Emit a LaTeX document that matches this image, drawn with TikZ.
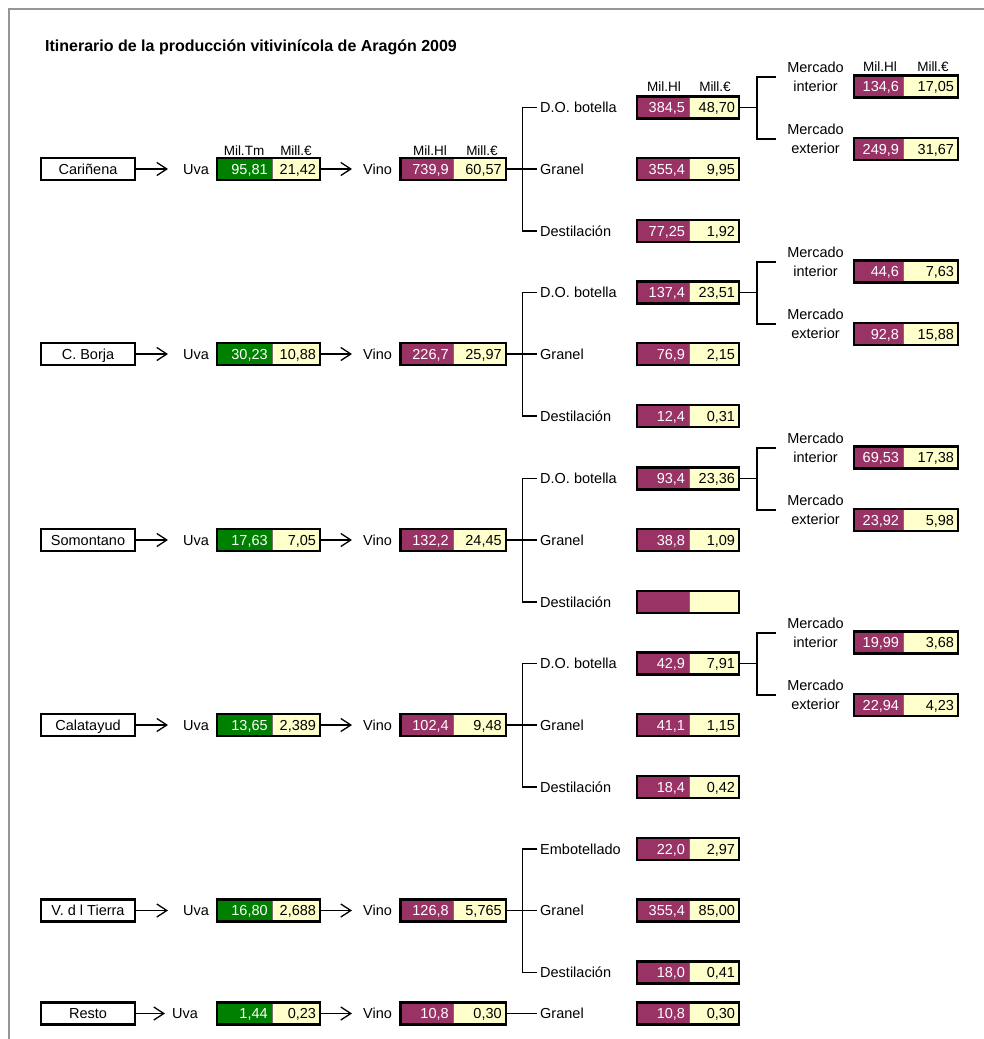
\documentclass[tikz,border=0pt]{standalone}
\usepackage{fontspec}
\setmainfont{Liberation Sans}
\usetikzlibrary{arrows.meta}
\definecolor{vinp}{HTML}{993366}
\definecolor{uvag}{HTML}{008000}
\definecolor{cremy}{HTML}{FFFFCC}
\definecolor{framegray}{HTML}{969696}
\tikzset{
  cell/.style={rectangle, inner xsep=4pt, inner ysep=0pt, minimum height=21.5pt,
    text height=10.5pt, text depth=0pt, align=right},
  sepline/.style={line width=0.6pt, black!55},
  boxline/.style={line width=2.2pt, black},
  regbox/.style={draw, line width=2.2pt, minimum width=94pt, minimum height=22pt,
    inner sep=0pt, text height=10.5pt, text depth=0pt},
  lbl/.style={inner sep=0pt, text height=10.5pt, text depth=0pt, anchor=west},
  mlbl/.style={inner sep=0pt, text height=10.5pt, text depth=0pt, anchor=center},
  hdr/.style={inner sep=0pt, text height=10pt, text depth=0pt, anchor=center,
    font=\fontsize{13.5}{16}\selectfont},
  arr/.style={line width=1.3pt, -{Straight Barb[length=10pt,width=13pt]}},
  conn/.style={line width=1.3pt},
  brk/.style={line width=2pt},
}
\newcommand\cpair[8]{%
  \pgfmathsetmacro\cpXa{#2+#4/2}%
  \pgfmathsetmacro\cpXb{#2+#4+#5/2}%
  \pgfmathsetmacro\cpTa{#4-8}%
  \pgfmathsetmacro\cpTb{#5-8}%
  \node[cell, fill=#6, text=white, text width=\cpTa pt] (#1a) at (\cpXa,#3) {#7};
  \node[cell, fill=cremy, text=black, text width=\cpTb pt] (#1b) at (\cpXb,#3) {#8};
  \draw[sepline] (#1a.north east) -- (#1a.south east);
  \draw[boxline] (#1a.north west) rectangle (#1b.south east);
}
\begin{document}
\begin{tikzpicture}[x=1pt, y=-1pt, font=\fontsize{14.5}{17}\selectfont]
\useasboundingbox (0,0) rectangle (984,1039);
\fill[white] (0,0) rectangle (984,1039);
\draw[framegray, line width=2pt] (8.5,1039) -- (8.5,8.5) -- (984,8.5);

\node[lbl, font=\fontsize{16}{19}\selectfont\bfseries, text height=11.5pt] (title) at (45,45.3)
  {Itinerario de la producción vitivinícola de Aragón 2009};

% headers
\node[hdr] (h1) at (244,150) {Mil.Tm};
\node[hdr] (h2) at (296,150) {Mill.€};
\node[hdr] (h3) at (430,150) {Mil.Hl};
\node[hdr] (h4) at (482,150) {Mill.€};
\node[hdr] (h5) at (664,86.7) {Mil.Hl};
\node[hdr] (h6) at (715,86.7) {Mill.€};
\node[hdr] (h7) at (880,66.7) {Mil.Hl};
\node[hdr] (h8) at (933,66.7) {Mill.€};

% ---------- Group 1: Cariñena ----------
\node[regbox] (r1) at (88,169) {Cariñena};
\node[lbl] (u1) at (183,169) {Uva};
\cpair{U1}{217}{169}{54.7}{48.3}{uvag}{95,81}{21,42}
\node[lbl] (v1) at (363,169) {Vino};
\cpair{V1}{400.7}{169}{52}{53}{vinp}{739,9}{60,57}
\draw[arr, shorten >=15pt] (r1.east) -- (u1.west);
\draw[arr, shorten >=11pt] (U1b.east) -- (v1.west);
\node[lbl] (b1do) at (540,107.5) {D.O. botella};
\node[lbl] (b1gr) at (540,169) {Granel};
\node[lbl] (b1ds) at (540,231) {Destilación};
\cpair{D1}{637}{107.5}{52}{50}{vinp}{384,5}{48,70}
\cpair{G1}{637}{169}{52}{50}{vinp}{355,4}{9,95}
\cpair{S1}{637}{231}{52}{50}{vinp}{77,25}{1,92}
\draw[conn] (V1b.east) -- ([xshift=-3.3pt]b1gr.west);
\draw[conn] ([xshift=-3.3pt]b1do.west) -- ++(-14,0) |- ([xshift=-3.3pt]b1ds.west);
\node[mlbl] (m1a) at (815.5,67) {Mercado};
\node[mlbl] (m1b) at (815.5,86) {interior};
\node[mlbl] (m1c) at (815.5,129) {Mercado};
\node[mlbl] (m1d) at (815.5,148) {exterior};
\cpair{I1}{854}{86.5}{49}{55}{vinp}{134,6}{17,05}
\cpair{E1}{854}{149}{49}{55}{vinp}{249,9}{31,67}
\coordinate (k1t) at (775.5,76.5);
\coordinate (k1b) at (775.5,138.5);
\draw[conn] (D1b.east) -- ++(17.7,0);
\draw[brk] (k1t) -- ++(-19,0) |- (k1b);

% ---------- Group 2: C. Borja ----------
\node[regbox] (r2) at (88,354) {C. Borja};
\node[lbl] (u2) at (183,354) {Uva};
\cpair{U2}{217}{354}{54.7}{48.3}{uvag}{30,23}{10,88}
\node[lbl] (v2) at (363,354) {Vino};
\cpair{V2}{400.7}{354}{52}{53}{vinp}{226,7}{25,97}
\draw[arr, shorten >=15pt] (r2.east) -- (u2.west);
\draw[arr, shorten >=11pt] (U2b.east) -- (v2.west);
\node[lbl] (b2do) at (540,292.5) {D.O. botella};
\node[lbl] (b2gr) at (540,354) {Granel};
\node[lbl] (b2ds) at (540,416) {Destilación};
\cpair{D2}{637}{292.5}{52}{50}{vinp}{137,4}{23,51}
\cpair{G2}{637}{354}{52}{50}{vinp}{76,9}{2,15}
\cpair{S2}{637}{416}{52}{50}{vinp}{12,4}{0,31}
\draw[conn] (V2b.east) -- ([xshift=-3.3pt]b2gr.west);
\draw[conn] ([xshift=-3.3pt]b2do.west) -- ++(-14,0) |- ([xshift=-3.3pt]b2ds.west);
\node[mlbl] (m2a) at (815.5,252) {Mercado};
\node[mlbl] (m2b) at (815.5,271) {interior};
\node[mlbl] (m2c) at (815.5,314) {Mercado};
\node[mlbl] (m2d) at (815.5,333) {exterior};
\cpair{I2}{854}{271.5}{49}{55}{vinp}{44,6}{7,63}
\cpair{E2}{854}{334}{49}{55}{vinp}{92,8}{15,88}
\coordinate (k2t) at (775.5,261.5);
\coordinate (k2b) at (775.5,323.5);
\draw[conn] (D2b.east) -- ++(17.7,0);
\draw[brk] (k2t) -- ++(-19,0) |- (k2b);

% ---------- Group 3: Somontano ----------
\node[regbox] (r3) at (88,540) {Somontano};
\node[lbl] (u3) at (183,540) {Uva};
\cpair{U3}{217}{540}{54.7}{48.3}{uvag}{17,63}{7,05}
\node[lbl] (v3) at (363,540) {Vino};
\cpair{V3}{400.7}{540}{52}{53}{vinp}{132,2}{24,45}
\draw[arr, shorten >=15pt] (r3.east) -- (u3.west);
\draw[arr, shorten >=11pt] (U3b.east) -- (v3.west);
\node[lbl] (b3do) at (540,478.5) {D.O. botella};
\node[lbl] (b3gr) at (540,540) {Granel};
\node[lbl] (b3ds) at (540,602) {Destilación};
\cpair{D3}{637}{478.5}{52}{50}{vinp}{93,4}{23,36}
\cpair{G3}{637}{540}{52}{50}{vinp}{38,8}{1,09}
\cpair{S3}{637}{602}{52}{50}{vinp}{}{}
\draw[conn] (V3b.east) -- ([xshift=-3.3pt]b3gr.west);
\draw[conn] ([xshift=-3.3pt]b3do.west) -- ++(-14,0) |- ([xshift=-3.3pt]b3ds.west);
\node[mlbl] (m3a) at (815.5,438) {Mercado};
\node[mlbl] (m3b) at (815.5,457) {interior};
\node[mlbl] (m3c) at (815.5,500) {Mercado};
\node[mlbl] (m3d) at (815.5,519) {exterior};
\cpair{I3}{854}{457.5}{49}{55}{vinp}{69,53}{17,38}
\cpair{E3}{854}{520}{49}{55}{vinp}{23,92}{5,98}
\coordinate (k3t) at (775.5,447.5);
\coordinate (k3b) at (775.5,509.5);
\draw[conn] (D3b.east) -- ++(17.7,0);
\draw[brk] (k3t) -- ++(-19,0) |- (k3b);

% ---------- Group 4: Calatayud ----------
\node[regbox] (r4) at (88,725) {Calatayud};
\node[lbl] (u4) at (183,725) {Uva};
\cpair{U4}{217}{725}{54.7}{48.3}{uvag}{13,65}{2,389}
\node[lbl] (v4) at (363,725) {Vino};
\cpair{V4}{400.7}{725}{52}{53}{vinp}{102,4}{9,48}
\draw[arr, shorten >=15pt] (r4.east) -- (u4.west);
\draw[arr, shorten >=11pt] (U4b.east) -- (v4.west);
\node[lbl] (b4do) at (540,663.5) {D.O. botella};
\node[lbl] (b4gr) at (540,725) {Granel};
\node[lbl] (b4ds) at (540,787) {Destilación};
\cpair{D4}{637}{663.5}{52}{50}{vinp}{42,9}{7,91}
\cpair{G4}{637}{725}{52}{50}{vinp}{41,1}{1,15}
\cpair{S4}{637}{787}{52}{50}{vinp}{18,4}{0,42}
\draw[conn] (V4b.east) -- ([xshift=-3.3pt]b4gr.west);
\draw[conn] ([xshift=-3.3pt]b4do.west) -- ++(-14,0) |- ([xshift=-3.3pt]b4ds.west);
\node[mlbl] (m4a) at (815.5,623) {Mercado};
\node[mlbl] (m4b) at (815.5,642) {interior};
\node[mlbl] (m4c) at (815.5,685) {Mercado};
\node[mlbl] (m4d) at (815.5,704) {exterior};
\cpair{I4}{854}{642.5}{49}{55}{vinp}{19,99}{3,68}
\cpair{E4}{854}{705}{49}{55}{vinp}{22,94}{4,23}
\coordinate (k4t) at (775.5,632.5);
\coordinate (k4b) at (775.5,694.5);
\draw[conn] (D4b.east) -- ++(17.7,0);
\draw[brk] (k4t) -- ++(-19,0) |- (k4b);

% ---------- Group 5: V. d l Tierra ----------
\node[regbox] (r5) at (88,910.5) {V. d l Tierra};
\node[lbl] (u5) at (183,910.5) {Uva};
\cpair{U5}{217}{910.5}{54.7}{48.3}{uvag}{16,80}{2,688}
\node[lbl] (v5) at (363,910.5) {Vino};
\cpair{V5}{400.7}{910.5}{52}{53}{vinp}{126,8}{5,765}
\draw[arr, shorten >=15pt] (r5.east) -- (u5.west);
\draw[arr, shorten >=11pt] (U5b.east) -- (v5.west);
\node[lbl] (b5em) at (540,849) {Embotellado};
\node[lbl] (b5gr) at (540,910.5) {Granel};
\node[lbl] (b5ds) at (540,972.5) {Destilación};
\cpair{D5}{637}{849}{52}{50}{vinp}{22,0}{2,97}
\cpair{G5}{637}{910.5}{52}{50}{vinp}{355,4}{85,00}
\cpair{S5}{637}{972.5}{52}{50}{vinp}{18,0}{0,41}
\draw[conn] (V5b.east) -- ([xshift=-3.3pt]b5gr.west);
\draw[conn] ([xshift=-3.3pt]b5em.west) -- ++(-14,0) |- ([xshift=-3.3pt]b5ds.west);

% ---------- Resto ----------
\node[regbox] (r6) at (88,1013.5) {Resto};
\node[lbl] (u6) at (172,1013.5) {Uva};
\cpair{U6}{217}{1013.5}{54.7}{48.3}{uvag}{1,44}{0,23}
\node[lbl] (v6) at (363,1013.5) {Vino};
\cpair{V6}{400.7}{1013.5}{52}{53}{vinp}{10,8}{0,30}
\draw[arr, shorten >=7pt] (r6.east) -- (u6.west);
\draw[arr, shorten >=11pt] (U6b.east) -- (v6.west);
\node[lbl] (b6gr) at (540,1013.5) {Granel};
\cpair{G6}{637}{1013.5}{52}{50}{vinp}{10,8}{0,30}
\draw[conn] (V6b.east) -- ([xshift=-3.3pt]b6gr.west);
\end{tikzpicture}
\end{document}
